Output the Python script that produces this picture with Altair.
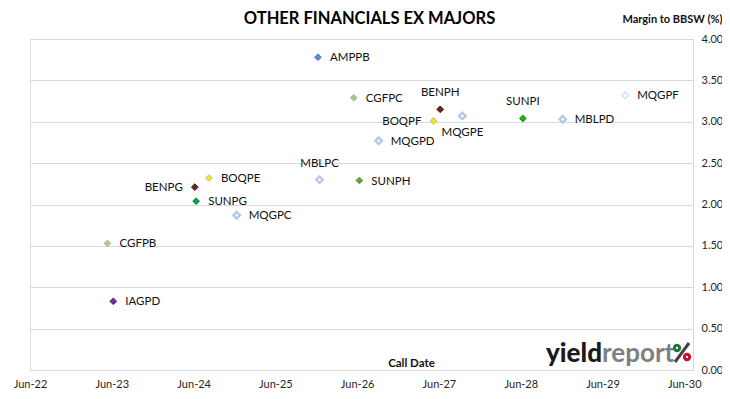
import altair as alt
import pandas as pd

# ---- data ----
names = ["AMPPB", "CGFPC", "BENPH", "BOQPF", "MQGPE", "MQGPD", "SUNPI", "MBLPD",
         "MQGPF", "MBLPC", "SUNPH", "BENPG", "BOQPE", "SUNPG", "MQGPC", "CGFPB", "IAGPD"]
call_dates = ["2025-12-08", "2026-05-17", "2027-06-07", "2027-05-08", "2027-09-14",
              "2026-09-05", "2028-06-10", "2028-12-05", "2029-09-10", "2025-12-15",
              "2026-06-11", "2024-06-06", "2024-08-08", "2024-06-12", "2024-12-10",
              "2023-05-13", "2023-06-08"]
margins = [3.78, 3.29, 3.15, 3.01, 3.07, 2.77, 3.04, 3.03, 3.32, 2.30, 2.29,
           2.21, 2.32, 2.04, 1.87, 1.53, 0.83]
label_pos = ["right", "right", "above", "left", "below", "right", "above", "right",
             "right", "above", "right", "left", "right", "right", "right", "right", "right"]
fills = ["#5b8bd0", "#a9c46c", "#6b2626", "#f2ec00", "#ffffff", "#ffffff", "#18b418", "#ffffff",
         "#ffffff", "#ffffff", "#6f9f3c", "#6b2626", "#f2ec00", "#00a651", "#ffffff", "#c8c864", "#7030a0"]
strokes = ["#4a78bd", "#9fb3cc", "#4a1616", "#b8b8a0", "#b4c6e7", "#b4c6e7", "#109a10", "#b4c6e7",
           "#b4c6e7", "#b4c6e7", "#5d8a30", "#4a1616", "#b8b8a0", "#008a40", "#b4c6e7", "#a0b0c8", "#5a2088"]
stroke_widths = [1, 1, 1, 1, 2.2, 2.2, 1, 2.2, 1, 2.2, 1, 1, 1, 1, 2.2, 1, 1]

x_ticks = [2022, 2023, 2024, 2025, 2026, 2027, 2028, 2029, 2030]
y_ticks = [0, 0.5, 1, 1.5, 2, 2.5, 3, 3.5, 4]

df = pd.DataFrame({
    "name": names, "date": call_dates, "margin": margins, "pos": label_pos,
    "fill": fills, "stroke": strokes, "sw": stroke_widths,
})

FONT = "Lato"
GRID = "#d9d9d9"

x_enc = alt.X(
    "date:T",
    scale=alt.Scale(type="utc",
                    domain=[alt.DateTime(year=2022, month=6, date=1, utc=True),
                            alt.DateTime(year=2030, month=7, date=10, utc=True)]),
    axis=alt.Axis(values=[alt.DateTime(year=y, month=6, date=1, utc=True) for y in x_ticks],
                  labelExpr="utcFormat(datum.value, '%b-%y')", grid=False, ticks=False,
                  domainColor=GRID, labelFontSize=11, labelColor="#1f1f1f",
                  labelFont=FONT, labelPadding=8, labelFlush=False,
                  title="Call Date", titleFont=FONT, titleFontSize=11.5,
                  titleFontWeight="bold", titleColor="#111",
                  titleX=381, titleY=-7, titleBaseline="middle", titleAnchor="middle"),
)
y_enc = alt.Y(
    "margin:Q",
    scale=alt.Scale(domain=[0, 4], nice=False),
    axis=alt.Axis(orient="right", values=y_ticks, format=".2f", grid=True,
                  gridColor=GRID, domainColor=GRID, ticks=False, labelPadding=8,
                  labelFontSize=11, labelColor="#1f1f1f", labelFont=FONT,
                  title="Margin to BBSW (%)", titleAngle=0, titleAlign="right",
                  titleX=29, titleY=-20, titleBaseline="middle", titleFont=FONT,
                  titleFontSize=11, titleFontWeight="bold", titleColor="#111"),
)

base = alt.Chart(df)

points = base.mark_point(shape="diamond", filled=True, size=45, opacity=1).encode(
    x=x_enc, y=y_enc,
    fill=alt.Fill("fill:N", scale=None),
    stroke=alt.Stroke("stroke:N", scale=None),
    strokeWidth=alt.StrokeWidth("sw:Q", scale=None),
)

def labels(pos, **kw):
    return base.transform_filter(alt.datum.pos == pos).mark_text(
        font=FONT, fontSize=11.5, color="#111", **kw
    ).encode(x="date:T", y="margin:Q", text="name:N")

lab_right = labels("right", align="left", baseline="middle", dx=12, dy=1)
lab_left = labels("left", align="right", baseline="middle", dx=-12, dy=1)
lab_above = labels("above", align="center", baseline="middle", dy=-16)
lab_below = labels("below", align="center", baseline="middle", dy=17)

# title and logo
title = alt.Chart(pd.DataFrame({"t": ["OTHER FINANCIALS EX MAJORS"]})).mark_text(
    font=FONT, fontSize=16.5, fontWeight="bold", color="#000", align="center", baseline="middle"
).encode(text="t:N", x=alt.value(339.5), y=alt.value(-20))

logo_yield = alt.Chart(pd.DataFrame({"t": ["yield"]})).mark_text(
    font=FONT, fontSize=26, fontWeight=900, color="#1a1a1a", align="right", baseline="alphabetic"
).encode(text="t:N", x=alt.value(572), y=alt.value(323))
logo_report = alt.Chart(pd.DataFrame({"t": ["report"]})).mark_text(
    font=FONT, fontSize=26, fontWeight="bold", color="#7f7f7f", align="left", baseline="alphabetic"
).encode(text="t:N", x=alt.value(572), y=alt.value(323))
logo_slash = alt.Chart(pd.DataFrame({"a": [0]})).mark_rule(color="#444", strokeWidth=3).encode(
    x=alt.value(645), x2=alt.value(659), y=alt.value(323), y2=alt.value(304))
logo_green = alt.Chart(pd.DataFrame({"a": [0]})).mark_point(
    shape="circle", filled=False, size=28, strokeWidth=3, color="#1e7a3a", opacity=1
).encode(x=alt.value(647), y=alt.value(309))
logo_red = alt.Chart(pd.DataFrame({"a": [0]})).mark_point(
    shape="circle", filled=False, size=28, strokeWidth=3, color="#c8102e", opacity=1
).encode(x=alt.value(657), y=alt.value(318))

chart = alt.layer(
    points, lab_right, lab_left, lab_above, lab_below,
    title, logo_yield, logo_report, logo_slash, logo_green, logo_red
).properties(
    width=663, height=331,
    autosize=alt.AutoSizeParams(type="none"),
    padding={"left": 22, "top": 31, "right": 29, "bottom": 20},
    background="#ffffff",
).configure_view(stroke=GRID, strokeWidth=1)

chart.save("out.html", embed_options={"renderer": "svg", "actions": False})
